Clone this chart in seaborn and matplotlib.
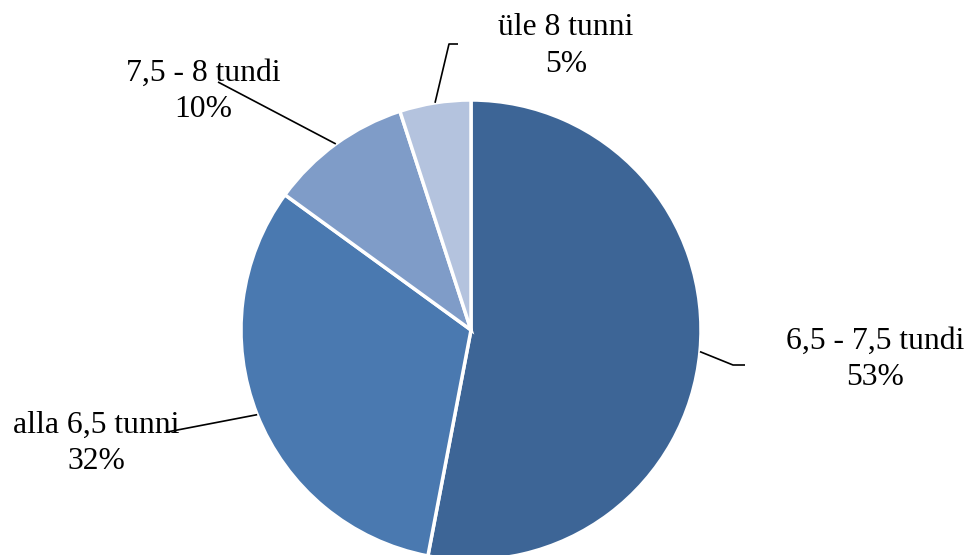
import numpy as np
import matplotlib
matplotlib.use('Agg')
import matplotlib.pyplot as plt
import seaborn as sns

# slices, clockwise from 12 o'clock
categories = ['6,5 - 7,5 tundi', 'alla 6,5 tunni', '7,5 - 8 tundi', 'üle 8 tunni']
shares = [53, 32, 10, 5]
colors = ['#3d6596', '#4a79b0', '#7f9cc8', '#b4c3de']

sns.set_theme(style='white')
plt.rcParams['font.family'] = ['Liberation Serif', 'DejaVu Serif']

W, H = 974, 555
CX, CY, R = 471, 330, 230  # pie centre/radius in pixels


def px(x, y):
    # pixel position -> data coords (radius 1 = R pixels)
    return (x - CX) / R, (CY - y) / R


fig = plt.figure(figsize=(W / 100, H / 100), dpi=100)
ax = fig.add_axes([0, 0, 1, 1])
wedges, _ = ax.pie(shares, colors=colors, startangle=90, counterclock=False,
                   radius=1, wedgeprops=dict(edgecolor='white', linewidth=2.5))
ax.set_xlim(-CX / R, (W - CX) / R)
ax.set_ylim((CY - H) / R, CY / R)
ax.set_aspect('equal')
ax.axis('off')

# label placement: text centre, leader line end points (pixels)
label_pos = [(875, 359), (96, 443), (203, 91), (566, 46)]
leader_pts = [[(733, 365), (745, 365)],
              [(167, 432)],
              [(218, 82)],
              [(449, 44), (458, 44)]]

for w, cat, val, lp, pts in zip(wedges, categories, shares, label_pos, leader_pts):
    mid = np.deg2rad((w.theta1 + w.theta2) / 2)
    xs = [np.cos(mid)] + [px(*p)[0] for p in pts]
    ys = [np.sin(mid)] + [px(*p)[1] for p in pts]
    ax.plot(xs, ys, color='black', lw=1.2, solid_capstyle='butt')
    tx, ty = px(*lp)
    ax.text(tx, ty, f'{cat}\n{val}%', ha='center', va='center',
            fontsize=22.8, color='black', linespacing=1.32)

fig.savefig('out.png', dpi=100)
plt.close(fig)
